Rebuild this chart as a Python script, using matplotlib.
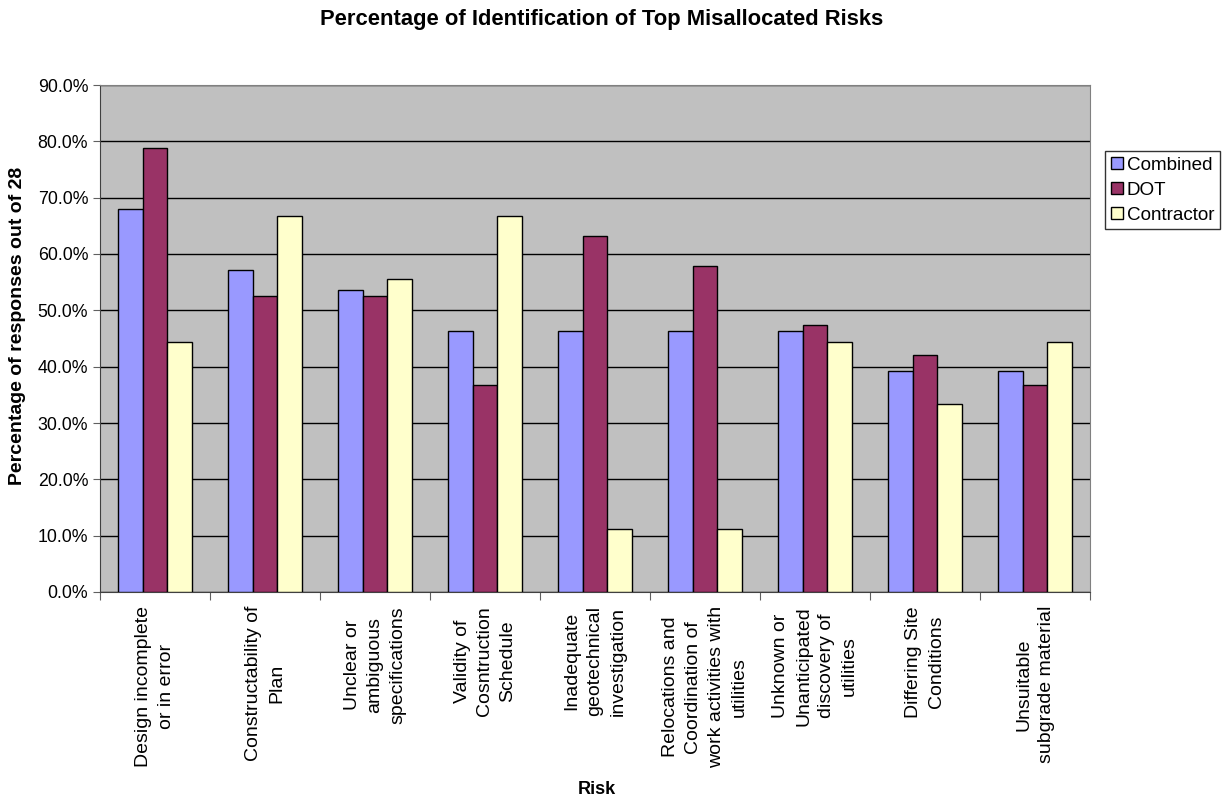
import matplotlib.pyplot as plt
import numpy as np
from matplotlib.ticker import FuncFormatter, FixedLocator

plt.rcParams['font.family'] = ['Liberation Sans', 'DejaVu Sans']

# Data
risks = [
    "Design incomplete\nor in error",
    "Constructability of\nPlan",
    "Unclear or\nambiguous\nspecifications",
    "Validity of\nCosntruction\nSchedule",
    "Inadequate\ngeotechnical\ninvestigation",
    "Relocations and\nCoordination of\nwork activities with\nutilities",
    "Unknown or\nUnanticipated\ndiscovery of\nutilities",
    "Differing Site\nConditions",
    "Unsuitable\nsubgrade material",
]
combined = [67.9, 57.1, 53.6, 46.4, 46.4, 46.4, 46.4, 39.3, 39.3]
dot = [78.9, 52.6, 52.6, 36.8, 63.2, 57.9, 47.4, 42.1, 36.8]
contractor = [44.4, 66.7, 55.6, 66.7, 11.1, 11.1, 44.4, 33.3, 44.4]
series_names = ["Combined", "DOT", "Contractor"]
series_colors = ["#9999FF", "#993366", "#FFFFCC"]

fig = plt.figure(figsize=(12.23, 8.01), dpi=100)
ax = fig.add_axes([100 / 1223, 1 - 592 / 801, 990 / 1223, 507 / 801])
ax.set_facecolor("#C0C0C0")

x = np.arange(len(risks))
w = 0.222
for i, (vals, name, col) in enumerate(zip([combined, dot, contractor], series_names, series_colors)):
    ax.bar(x + (i - 1) * w, vals, width=w, color=col, edgecolor="black",
           linewidth=1, label=name, zorder=3)

ax.set_xlim(-0.5, len(risks) - 0.5)
ax.set_ylim(0, 90)
ax.set_yticks(np.arange(0, 91, 10))
ax.yaxis.set_major_formatter(FuncFormatter(lambda v, p: f"{v:.1f}%"))
ax.grid(axis="y", color="black", linewidth=1, zorder=1)
ax.tick_params(axis="y", labelsize=12.8, length=5, direction="out", color="#606060")

# category boundary ticks, labels centered
ax.xaxis.set_major_locator(FixedLocator(np.arange(-0.5, len(risks), 1)))
ax.set_xticklabels([])
ax.tick_params(axis="x", length=6, direction="out", color="#606060")
for xi, lab in zip(x, risks):
    ax.text(xi, -2.5, lab, rotation=90, ha="center", va="top",
            fontsize=14, multialignment="center", linespacing=1.45,
            transform=ax.transData, clip_on=False)

for s in ["left", "bottom"]:
    ax.spines[s].set_color("#404040")
for s in ["top", "right"]:
    ax.spines[s].set_color("#808080")

fig.text(18 / 1223, 1 - 326 / 801, "Percentage of responses out of 28", fontsize=14,
         fontweight="bold", rotation=90, ha="center", va="center")
fig.text(597 / 1223, 1 - 790 / 801, "Risk", fontsize=13,
         fontweight="bold", ha="center", va="center")
fig.text(602 / 1223, 1 - 19 / 801,
         "Percentage of Identification of Top Misallocated Risks",
         fontsize=15.8, fontweight="bold", ha="center", va="center")

leg = fig.legend(loc="upper left", bbox_to_anchor=(1105 / 1223, 1 - 151 / 801),
                 fontsize=13.6, frameon=True, fancybox=False, handlelength=0.65,
                 handleheight=0.65, handletextpad=0.2, borderpad=0.3,
                 labelspacing=0.42, borderaxespad=0)
leg.get_frame().set_edgecolor("black")
leg.get_frame().set_linewidth(1)

fig.savefig("out.png", dpi=100)
